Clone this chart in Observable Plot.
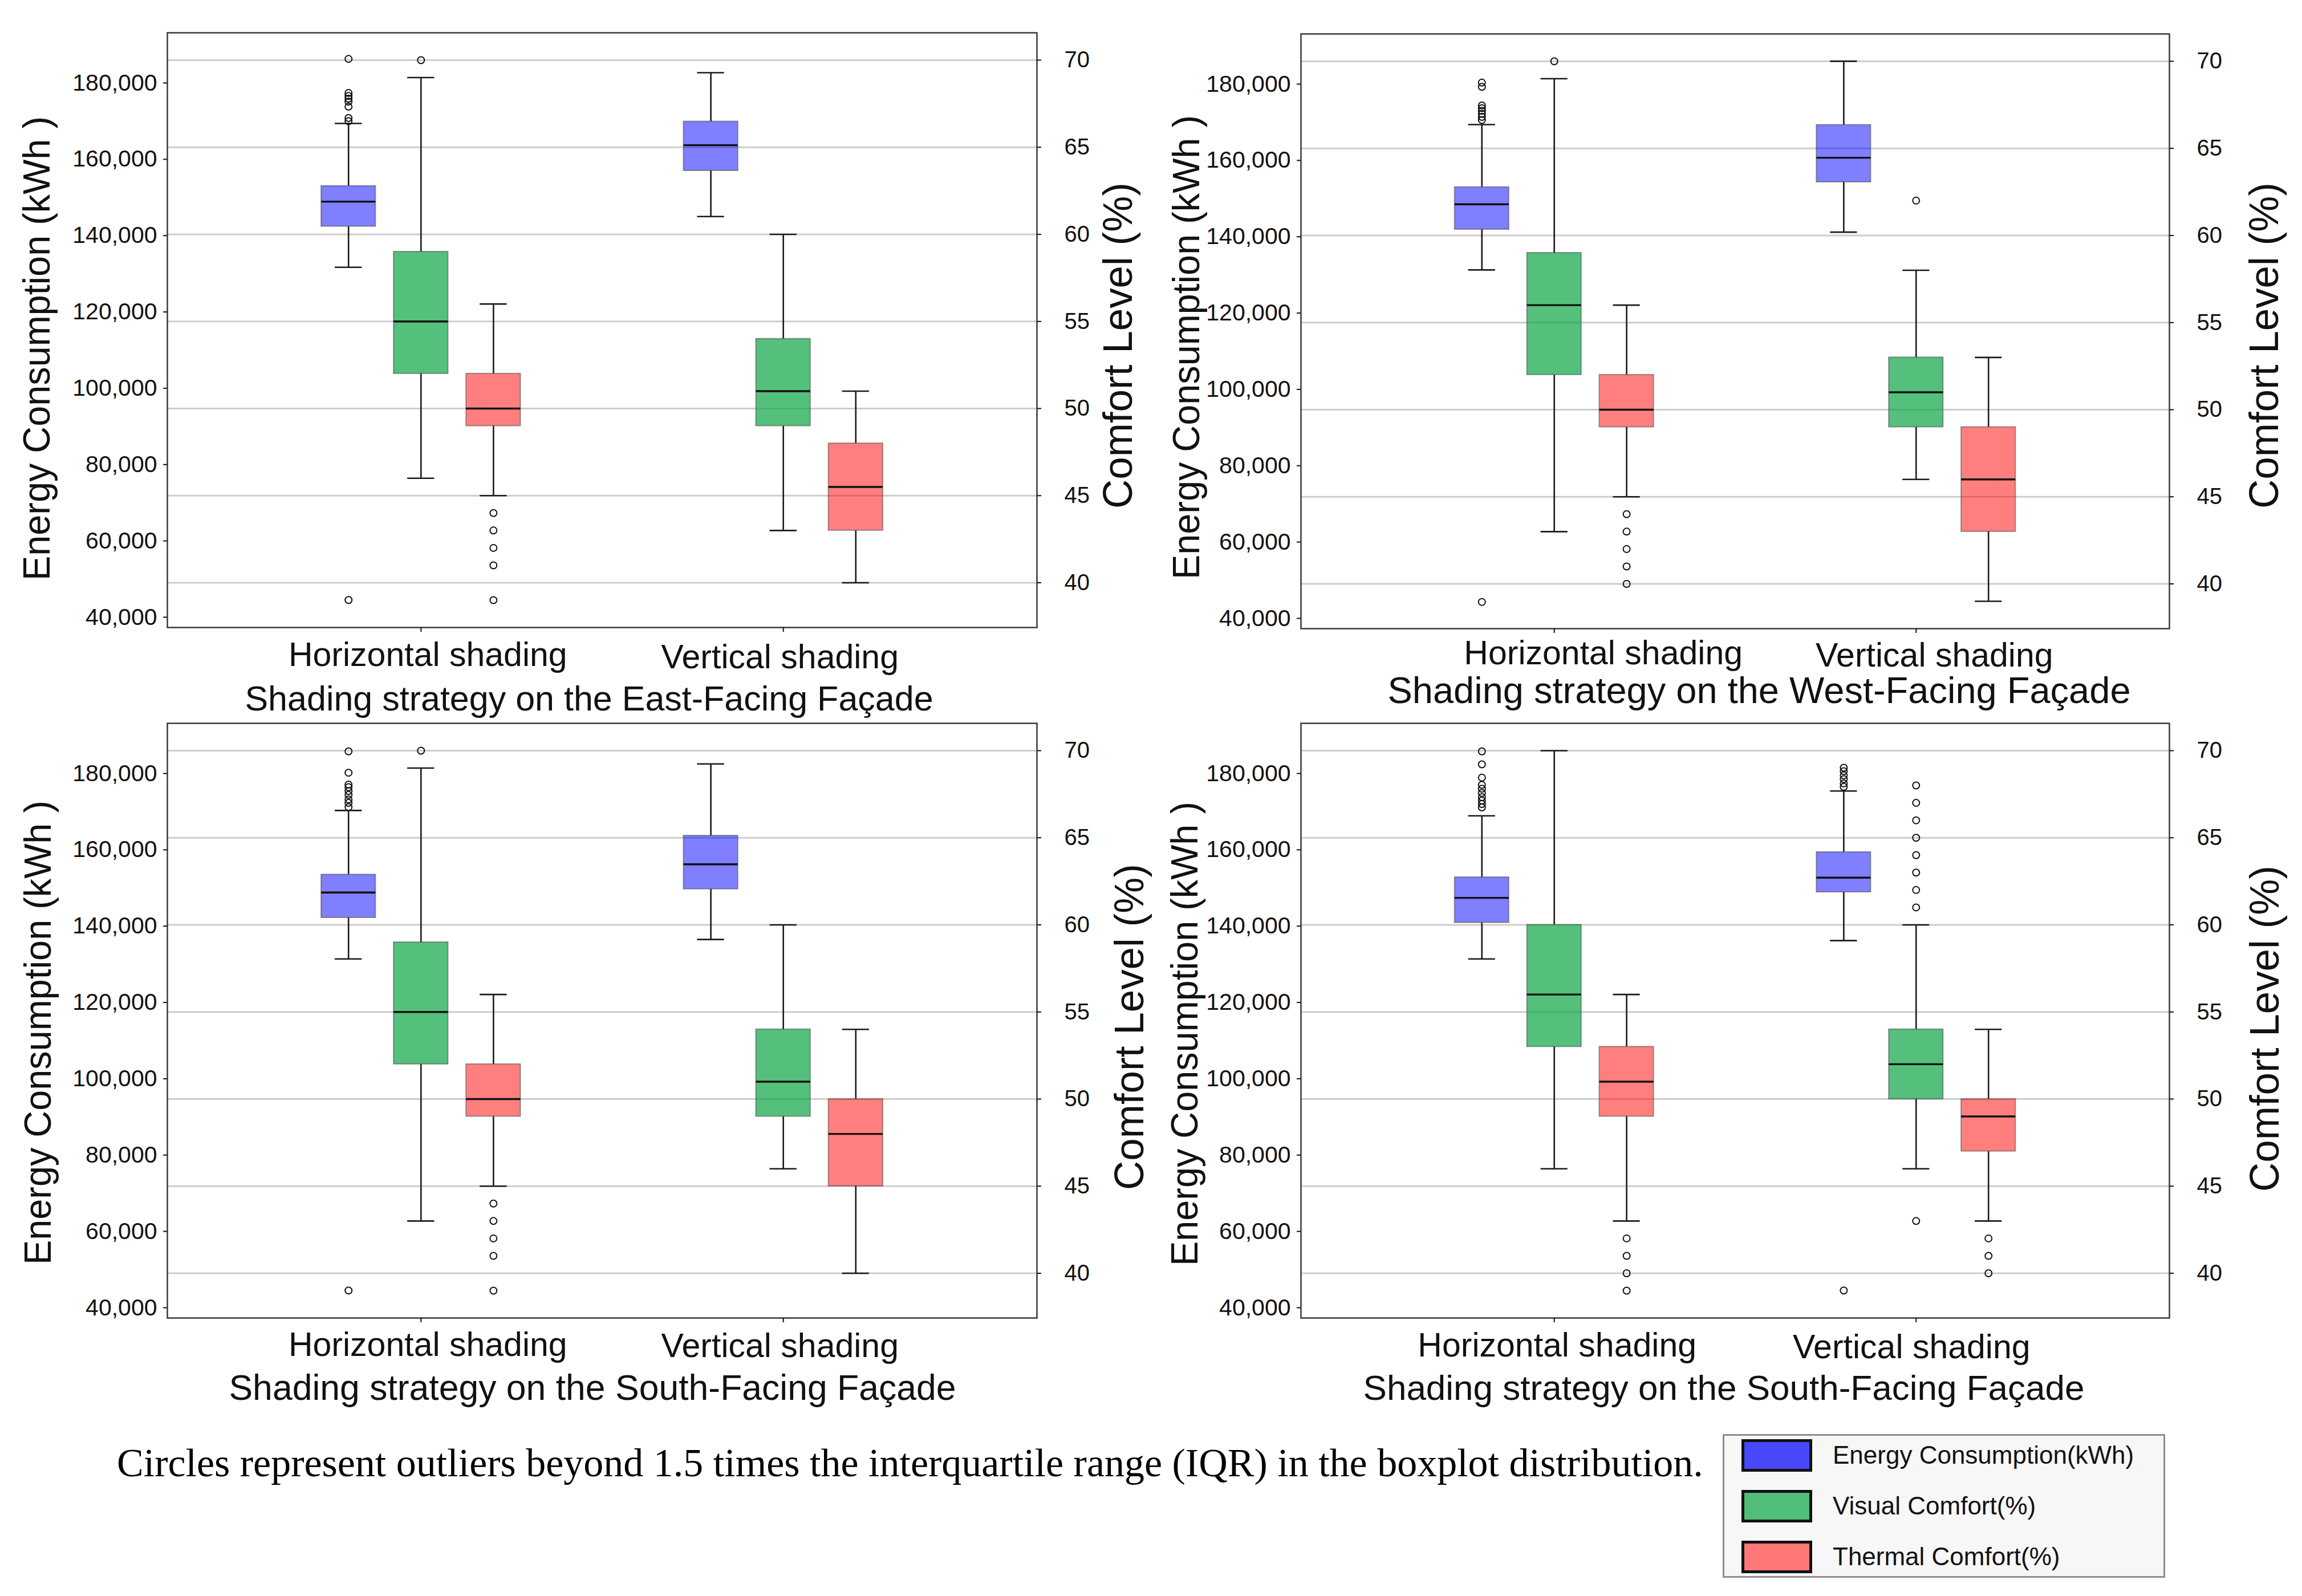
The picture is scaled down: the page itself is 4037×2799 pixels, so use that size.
<!DOCTYPE html>
<html>
<head>
<meta charset="utf-8">
<script src="https://cdn.jsdelivr.net/npm/d3@7"></script>
<script src="https://cdn.jsdelivr.net/npm/@observablehq/plot@0.6"></script>
<style>
html, body { margin: 0; padding: 0; background: #fff; }
#page { position: relative; width: 4037px; height: 2799px; background: #fff; overflow: hidden; font-family: "Liberation Sans", Arial, sans-serif; }
.panel { position: absolute; }
.panel svg { position: absolute; left: 0; top: 0; max-width: none; }
#caption { position: absolute; left: 205px; top: 2531px; font-family: "Liberation Serif", "Times New Roman", serif; font-size: 70px; line-height: 70px; white-space: nowrap; color: #000; }
#legend { position: absolute; left: 3021px; top: 2515px; width: 770px; height: 246px; background: #f7f7f7; border: 3px solid #8d8d8d; }
.lg-sw { position: absolute; left: 30px; width: 114px; height: 47px; border: 5px solid #111; }
.lg-tx { position: absolute; left: 190px; font-size: 44px; line-height: 44px; color: #111; white-space: nowrap; }
</style>
</head>
<body>
<div id="page"></div>
<script>
// ---------- categories & labels ----------
const strategies = ["Horizontal shading", "Vertical shading"];
const metrics = ["Energy Consumption(kWh)", "Visual Comfort(%)", "Thermal Comfort(%)"];
const panelTitles = [
  "Shading strategy on the East-Facing Façade",
  "Shading strategy on the West-Facing Façade",
  "Shading strategy on the South-Facing Façade",
  "Shading strategy on the South-Facing Façade"
];
const leftTitle = "Energy Consumption (kWh )";
const rightTitle = "Comfort Level (%)";
const captionText = "Circles represent outliers beyond 1.5 times the interquartile range (IQR) in the boxplot distribution.";
const energyTicks = [40000, 60000, 80000, 100000, 120000, 140000, 160000, 180000];
const comfortTicks = [40, 45, 50, 55, 60, 65, 70];

// ---------- box statistics: [lower whisker, Q1, median, Q3, upper whisker], per strategy [Horizontal, Vertical] ----------
// East-facing
const eastEnergy  = [[131700, 142400, 148900, 153000, 169400], [145000, 157000, 163700, 169900, 182700]];
const eastVisual  = [[46, 52, 55, 59, 69], [43, 49, 51, 54, 60]];
const eastThermal = [[45, 49, 50, 52, 56], [40, 43, 45.5, 48, 51]];
const eastEnergyOut  = [[186300, 177400, 176600, 175900, 175100, 173800, 170800, 170000, 44500], []];
const eastVisualOut  = [[70], []];
const eastThermalOut = [[44, 43, 42, 41, 39], []];
// West-facing
const westEnergy  = [[131300, 141900, 148500, 153000, 169400], [141200, 154300, 160700, 169300, 186000]];
const westVisual  = [[43, 52, 56, 59, 69], [46, 49, 51, 53, 58]];
const westThermal = [[45, 49, 50, 52, 56], [39, 43, 46, 49, 53]];
const westEnergyOut  = [[180400, 179300, 174400, 173700, 173000, 172200, 171400, 170600, 44300], []];
const westVisualOut  = [[70], [62]];
const westThermalOut = [[44, 43, 42, 41, 40], []];
// South-facing (left)
const southEnergy  = [[131400, 142200, 148800, 153500, 170300], [136500, 149700, 156200, 163700, 182500]];
const southVisual  = [[43, 52, 55, 59, 69], [46, 49, 51, 54, 60]];
const southThermal = [[45, 49, 50, 52, 56], [40, 45, 48, 50, 54]];
const southEnergyOut  = [[185800, 180200, 177100, 176400, 175400, 174400, 173200, 172300, 171200, 44500], []];
const southVisualOut  = [[70], []];
const southThermalOut = [[44, 43, 42, 41, 39], []];
// South-facing (right)
const south2Energy  = [[131400, 140900, 147400, 152800, 168900], [136200, 148900, 152700, 159400, 175400]];
const south2Visual  = [[46, 53, 56, 60, 70], [46, 50, 52, 54, 60]];
const south2Thermal = [[43, 49, 51, 53, 56], [43, 47, 49, 50, 54]];
const south2EnergyOut  = [[185800, 182400, 178900, 177000, 176000, 174900, 173800, 172900, 172000, 171100], [181500, 180600, 179500, 178500, 177400, 176500, 44500]];
const south2VisualOut  = [[], [68, 67, 66, 65, 64, 63, 62, 61, 43]];
const south2ThermalOut = [[42, 41, 40, 39], [42, 41, 40]];

// ---------- styling ----------
const boxFills = ["rgba(0,0,255,0.5)", "rgba(11,165,68,0.7)", "rgba(255,0,0,0.5)"];
const legendFills = ["#4848fa", "#50be78", "#ff7878"];
const energyDomain = [37300, 193150];
const comfortDomain = [37.43, 71.57];
const M = {left: 293, right: 230, top: 40, bottom: 180};
const frameH = 1043;
const leftTitleStyle = {size: 67, length: 814};
const rightTitleStyle = {size: 72, length: 572};

const panels = [
  {left: 293,  top: 57,   width: 1525, e: eastEnergy,   v: eastVisual,   t: eastThermal,   eo: eastEnergyOut,   vo: eastVisualOut,   to: eastThermalOut,   title: panelTitles[0], titleSize: 61,   titleDx: -23, titleDy: 145, tickDx: [12, -6], tickDy: [67, 71], leftDx: -228, leftDy: 32, rightDx: 143, rightDy: 27},
  {left: 2281, top: 59,   width: 1523, e: westEnergy,   v: westVisual,   t: westThermal,   eo: westEnergyOut,   vo: westVisualOut,   to: westThermalOut,   title: panelTitles[1], titleSize: 65,   titleDx: 42,  titleDy: 130, tickDx: [86, 32], tickDy: [62, 66], leftDx: -200, leftDy: 28, rightDx: 167, rightDy: 25},
  {left: 293,  top: 1268, width: 1525, e: southEnergy,  v: southVisual,  t: southThermal,  eo: southEnergyOut,  vo: southVisualOut,  to: southThermalOut,  title: panelTitles[2], titleSize: 62.5, titleDx: -17, titleDy: 143, tickDx: [12, -6], tickDy: [66, 68], leftDx: -226, leftDy: 21, rightDx: 163, rightDy: 11},
  {left: 2281, top: 1268, width: 1523, e: south2Energy, v: south2Visual, t: south2Thermal, eo: south2EnergyOut, vo: south2VisualOut, to: south2ThermalOut, title: panelTitles[3], titleSize: 62,   titleDx: -20, titleDy: 143, tickDx: [5, -8],  tickDy: [67, 70], leftDx: -203, leftDy: 23, rightDx: 168, rightDy: 14}
];

// x domain: three boxes per strategy, two spacer slots between the groups
const keyOf = (s, m) => s + "|" + m;
const xDomain = [];
strategies.forEach((s, i) => {
  metrics.forEach(m => xDomain.push(keyOf(s, m)));
  if (i === 0) xDomain.push("spacer-1", "spacer-2");
});

function boxRows(stats, metric) {
  return strategies.map((s, i) => ({key: keyOf(s, metric), metric, lo: stats[i][0], q1: stats[i][1], med: stats[i][2], q3: stats[i][3], hi: stats[i][4]}));
}
function outRows(outs, metric) {
  return strategies.flatMap((s, i) => outs[i].map(v => ({key: keyOf(s, metric), metric, value: v})));
}

const capInset = 24;
function boxMarks(rows, outs) {
  return [
    Plot.ruleX(rows, {x: "key", y1: "lo", y2: "q1", stroke: "#1a1a1a", strokeWidth: 2.6}),
    Plot.ruleX(rows, {x: "key", y1: "q3", y2: "hi", stroke: "#1a1a1a", strokeWidth: 2.6}),
    Plot.barY(rows, {x: "key", y1: "q1", y2: "q3", fill: "metric", stroke: "#404040", strokeOpacity: 0.5, strokeWidth: 2}),
    Plot.tickY(rows, {x: "key", y: "med", stroke: "#111", strokeWidth: 3.4}),
    Plot.tickY(rows, {x: "key", y: "lo", stroke: "#1a1a1a", strokeWidth: 2.6, insetLeft: capInset, insetRight: capInset}),
    Plot.tickY(rows, {x: "key", y: "hi", stroke: "#1a1a1a", strokeWidth: 2.6, insetLeft: capInset, insetRight: capInset}),
    Plot.dot(outs, {x: "key", y: "value", r: 6, stroke: "#111", strokeWidth: 2, fill: "none"})
  ];
}

function fitText(svg, content, length) {
  svg.querySelectorAll("text").forEach(el => {
    if (el.textContent === content) {
      el.setAttribute("textLength", length);
      el.setAttribute("lengthAdjust", "spacingAndGlyphs");
    }
  });
}

const page = document.getElementById("page");

panels.forEach(p => {
  const W = M.left + p.width + M.right;
  const H = M.top + frameH + M.bottom;
  const div = document.createElement("div");
  div.className = "panel";
  div.style.left = (p.left - M.left) + "px";
  div.style.top = (p.top - M.top) + "px";
  div.style.width = W + "px";
  div.style.height = H + "px";
  page.appendChild(div);

  const common = {
    width: W, height: H,
    marginLeft: M.left, marginRight: M.right, marginTop: M.top, marginBottom: M.bottom,
    x: {type: "band", domain: xDomain, paddingInner: 0.25, paddingOuter: 2.125, round: false},
    color: {domain: metrics, range: boxFills},
    style: {background: "transparent", fontFamily: "Liberation Sans, Arial, sans-serif", color: "#111", overflow: "visible"}
  };

  const comfortRows = [...boxRows(p.v, metrics[1]), ...boxRows(p.t, metrics[2])];
  const comfortOut = [...outRows(p.vo, metrics[1]), ...outRows(p.to, metrics[2])];

  const comfortPlot = Plot.plot({
    ...common,
    y: {domain: comfortDomain},
    marks: [
      Plot.gridY(comfortTicks, {stroke: "#cdcdcd", strokeOpacity: 1, strokeWidth: 3}),
      ...boxMarks(comfortRows, comfortOut),
      Plot.frame({stroke: "#3a3a3a", strokeWidth: 2.5}),
      Plot.axisY(comfortTicks, {anchor: "right", tickSize: 7, tickPadding: 41, fontSize: 40, label: null, strokeWidth: 2}),
      Plot.axisX(strategies.map(s => keyOf(s, metrics[1])), {anchor: "bottom", tickSize: 8, tickFormat: () => "", label: null, strokeWidth: 2}),
      ...strategies.map((s, i) => Plot.text([s], {x: d => keyOf(d, metrics[1]), frameAnchor: "bottom", dx: p.tickDx[i], dy: p.tickDy[i], lineAnchor: "bottom", fontSize: 59, fill: "#111"})),
      Plot.text([p.title], {frameAnchor: "bottom", dx: p.titleDx, dy: p.titleDy, lineAnchor: "bottom", fontSize: p.titleSize, fill: "#111"}),
      Plot.text([rightTitle], {frameAnchor: "right", rotate: -90, dx: p.rightDx, dy: p.rightDy, textAnchor: "middle", lineAnchor: "middle", fontSize: rightTitleStyle.size, fill: "#111"})
    ]
  });
  fitText(comfortPlot, rightTitle, rightTitleStyle.length);

  const energyPlot = Plot.plot({
    ...common,
    x: {...common.x, axis: null},
    y: {domain: energyDomain},
    marks: [
      ...boxMarks(boxRows(p.e, metrics[0]), outRows(p.eo, metrics[0])),
      Plot.axisY(energyTicks, {anchor: "left", tickSize: 7, tickPadding: 11, tickFormat: d3.format(","), fontSize: 41, label: null, strokeWidth: 2}),
      Plot.text([leftTitle], {frameAnchor: "left", rotate: -90, dx: p.leftDx, dy: p.leftDy, textAnchor: "middle", lineAnchor: "middle", fontSize: leftTitleStyle.size, fill: "#111"})
    ]
  });
  fitText(energyPlot, leftTitle, leftTitleStyle.length);

  div.appendChild(comfortPlot);
  div.appendChild(energyPlot);
});

// caption
const cap = document.createElement("div");
cap.id = "caption";
cap.textContent = captionText;
page.appendChild(cap);

// legend
const lg = document.createElement("div");
lg.id = "legend";
const rowTops = [34, 123, 212];
metrics.forEach((m, i) => {
  const sw = document.createElement("div");
  sw.className = "lg-sw";
  sw.style.top = (rowTops[i] - 28) + "px";
  sw.style.background = legendFills[i];
  lg.appendChild(sw);
  const tx = document.createElement("div");
  tx.className = "lg-tx";
  tx.style.top = (rowTops[i] - 22) + "px";
  tx.textContent = m;
  lg.appendChild(tx);
});
page.appendChild(lg);
</script>
</body>
</html>
